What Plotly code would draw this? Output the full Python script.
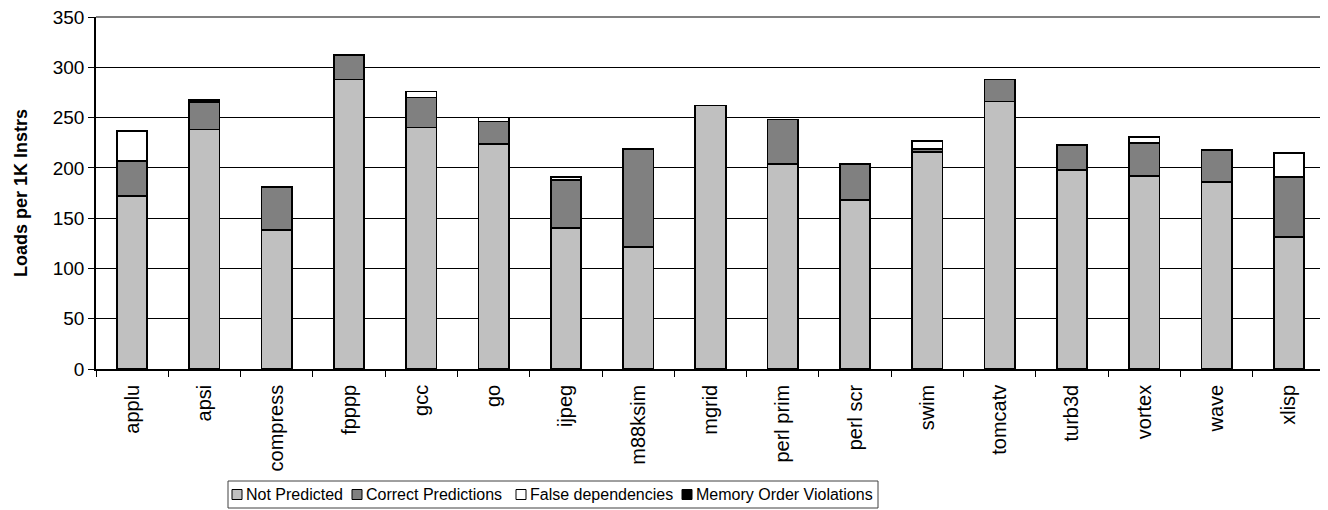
import plotly.graph_objects as go

BENCHMARKS = ["applu", "apsi", "compress", "fpppp", "gcc", "go", "ijpeg", "m88ksim", "mgrid",
              "perl prim", "perl scr", "swim", "tomcatv", "turb3d", "vortex", "wave", "xlisp"]
NOT_PREDICTED = [172, 238, 138, 288, 240, 224, 140, 121, 262, 204, 168, 216, 266, 198, 192, 186, 131]
CORRECT_PRED = [35, 27, 43, 24, 30, 22, 48, 98, 0, 44, 36, 3, 22, 25, 33, 32, 60]
FALSE_DEPS = [30, 1, 0, 0, 6, 4, 3, 0, 0, 0, 0, 8, 0, 0, 6, 0, 24]
MEM_VIOLATIONS = [0, 2, 0, 0, 0, 0, 0, 0, 0, 0, 0, 0, 0, 0, 0, 0, 0]

FONT = "Liberation Sans, Arial, sans-serif"

# the page body keeps its default 8px margin, so the figure is shrunk by that
# and all page-pixel positions below are shifted by it
PAGE_PAD = 8
W, H = 1328 - PAGE_PAD, 510 - PAGE_PAD
M_L, M_R, M_T, M_B = 96 - PAGE_PAD, 3, 17 - PAGE_PAD, 141


def nz(vals):
    # zero-height segments would still draw an outline, so drop them
    return [v if v else None for v in vals]


def px_x(x):
    return (x - PAGE_PAD - M_L) / (W - M_L - M_R)


def px_y(y):
    return (H - M_B - (y - PAGE_PAD)) / (H - M_T - M_B)


series = [
    ("Not Predicted", NOT_PREDICTED, "#c0c0c0"),
    ("Correct Predictions", CORRECT_PRED, "#808080"),
    ("False dependencies", FALSE_DEPS, "#ffffff"),
    ("Memory Order Violations", MEM_VIOLATIONS, "#000000"),
]

fig = go.Figure()
for name, vals, color in series:
    fig.add_trace(go.Bar(
        x=BENCHMARKS, y=nz(vals), name=name,
        marker=dict(color=color, line=dict(color="black", width=1.7)),
    ))

fig.update_layout(
    barmode="stack", bargap=0.58,
    width=W, height=H,
    margin=dict(l=M_L, r=M_R, t=M_T, b=M_B),
    paper_bgcolor="white", plot_bgcolor="white",
    font=dict(family=FONT, color="black", size=17),
    showlegend=False,
)
fig.update_xaxes(
    type="category", tickangle=-90, ticks="outside", tickson="boundaries", ticklen=6,
    tickcolor="black", showline=True, linecolor="black", linewidth=1.5,
    tickfont=dict(size=20), showgrid=False, automargin=False, ticklabelstandoff=6,
)
fig.update_yaxes(
    range=[0, 350], dtick=50, ticks="outside", ticklen=6, tickcolor="black",
    showline=True, linecolor="black", linewidth=1.5,
    showgrid=True, gridcolor="black", gridwidth=1, zeroline=False,
    tickfont=dict(size=19), automargin=False, ticklabeloverflow="allow",
    title=dict(text="<b>Loads per 1K Instrs</b>", font=dict(size=18), standoff=20),
)
# grey frame on top and right of the plot area
fig.add_shape(type="line", xref="paper", yref="paper", x0=0, x1=1, y0=1, y1=1,
              line=dict(color="#808080", width=2))
fig.add_shape(type="line", xref="paper", yref="paper", x0=1, x1=1, y0=0, y1=1,
              line=dict(color="#808080", width=2))

# Excel-style compact legend box under the chart, drawn by hand
fig.add_shape(type="rect", xref="paper", yref="paper",
              x0=px_x(228), x1=px_x(878), y0=px_y(481), y1=px_y(508),
              line=dict(color="#404040", width=1), fillcolor="white")
legend_x = [232, 352, 516, 682]
for (name, _, color), lx in zip(series, legend_x):
    fig.add_shape(type="rect", xref="paper", yref="paper",
                  x0=px_x(lx), x1=px_x(lx + 10), y0=px_y(489.5), y1=px_y(499.5),
                  line=dict(color="black", width=1), fillcolor=color)
    fig.add_annotation(text=name, xref="paper", yref="paper", x=px_x(lx + 12), y=px_y(494.5),
                       xanchor="left", yanchor="middle", showarrow=False,
                       font=dict(size=16, family=FONT, color="black"))

fig.write_html("out.html")
